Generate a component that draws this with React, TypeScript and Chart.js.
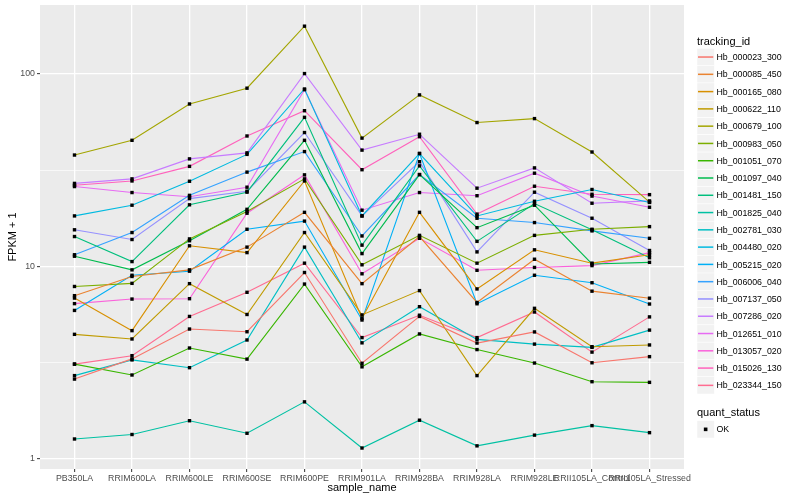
import React, { useEffect, useRef } from "react";
import { Chart, registerables } from "chart.js";

Chart.register(...registerables);

// ---------- data ----------
const sampleNames = [
  "PB350LA", "RRIM600LA", "RRIM600LE", "RRIM600SE", "RRIM600PE", "RRIM901LA",
  "RRIM928BA", "RRIM928LA", "RRIM928LE", "RRII105LA_Control", "RRII105LA_Stressed",
];

const trackingIds = [
  "Hb_000023_300", "Hb_000085_450", "Hb_000165_080", "Hb_000622_110", "Hb_000679_100",
  "Hb_000983_050", "Hb_001051_070", "Hb_001097_040", "Hb_001481_150", "Hb_001825_040",
  "Hb_002781_030", "Hb_004480_020", "Hb_005215_020", "Hb_006006_040", "Hb_007137_050",
  "Hb_007286_020", "Hb_012651_010", "Hb_013057_020", "Hb_015026_130", "Hb_023344_150",
];

const seriesColors = [
  "#F8766D", "#EA8331", "#D89000", "#C09B00", "#A3A500",
  "#7CAE00", "#39B600", "#00BB4E", "#00BF7D", "#00C1A3",
  "#00BFC4", "#00BAE0", "#00B0F6", "#35A2FF", "#9590FF",
  "#C77CFF", "#E76BF3", "#FA62DB", "#FF62BC", "#FF6C91",
];

// FPKM + 1 per sample (order of sampleNames)
const Hb_000023_300 = [2.6, 3.31, 4.73, 4.58, 9.3, 3.14, 5.5, 4.0, 4.57, 3.16, 3.4];
const Hb_000085_450 = [7.05, 8.87, 9.6, 12.6, 19.1, 8.14, 14.3, 6.5, 10.9, 7.44, 6.84];
const Hb_000165_080 = [6.85, 4.64, 12.8, 11.8, 27.8, 5.38, 19.1, 7.64, 12.2, 10.4, 11.5];
const Hb_000622_110 = [4.44, 4.2, 8.14, 5.63, 15.0, 5.6, 7.49, 2.71, 6.06, 3.83, 3.91];
const Hb_000679_100 = [37.9, 45.2, 69.8, 84.3, 177, 46.4, 77.8, 55.9, 58.6, 39.3, 21.6];
const Hb_000983_050 = [7.87, 8.17, 13.9, 19.3, 28.5, 10.2, 14.5, 10.4, 14.5, 15.6, 16.1];
const Hb_001051_070 = [3.11, 2.73, 3.77, 3.3, 8.1, 3.01, 4.46, 3.7, 3.15, 2.52, 2.5];
const Hb_001097_040 = [11.3, 9.6, 13.6, 19.8, 45.2, 11.66, 30.0, 15.9, 20.8, 10.3, 10.5];
const Hb_001481_150 = [14.3, 10.6, 20.9, 24.3, 59.5, 12.9, 33.3, 13.5, 21.2, 15.5, 11.1];
const Hb_001825_040 = [1.27, 1.34, 1.58, 1.36, 1.98, 1.14, 1.59, 1.17, 1.33, 1.49, 1.37];
const Hb_002781_030 = [2.71, 3.27, 2.98, 4.15, 12.6, 4.01, 6.18, 4.18, 3.95, 3.8, 4.67];
const Hb_004480_020 = [18.3, 20.8, 27.7, 38.2, 83.5, 18.3, 38.6, 18.3, 21.8, 25.1, 21.5];
const Hb_005215_020 = [5.91, 9.0, 9.45, 15.6, 17.2, 5.27, 38.6, 6.4, 9.0, 8.23, 6.38];
const Hb_006006_040 = [11.5, 15.0, 23.4, 30.9, 39.5, 14.4, 30.0, 17.8, 16.9, 15.3, 14.0];
const Hb_007137_050 = [15.5, 13.8, 22.5, 24.6, 49.6, 18.3, 35.0, 11.9, 24.3, 17.8, 12.1];
const Hb_007286_020 = [27.0, 28.5, 36.2, 38.9, 100.4, 40.2, 48.6, 25.5, 32.5, 21.3, 21.9];
const Hb_012651_010 = [26.0, 24.2, 23.0, 25.8, 82.8, 19.6, 24.2, 23.3, 30.5, 23.2, 20.3];
const Hb_013057_020 = [6.41, 6.77, 6.8, 18.9, 29.9, 9.16, 14.0, 9.55, 9.88, 10.1, 11.8];
const Hb_015026_130 = [26.4, 27.8, 33.1, 47.6, 64.4, 31.8, 47.2, 18.7, 26.1, 23.7, 23.6];
const Hb_023344_150 = [3.11, 3.44, 5.5, 7.34, 10.4, 4.27, 5.58, 4.27, 5.8, 3.59, 5.47];

const seriesValues = [
  Hb_000023_300, Hb_000085_450, Hb_000165_080, Hb_000622_110, Hb_000679_100,
  Hb_000983_050, Hb_001051_070, Hb_001097_040, Hb_001481_150, Hb_001825_040,
  Hb_002781_030, Hb_004480_020, Hb_005215_020, Hb_006006_040, Hb_007137_050,
  Hb_007286_020, Hb_012651_010, Hb_013057_020, Hb_015026_130, Hb_023344_150,
];

const yMajorBreaks = [1, 10, 100];
const yMinorBreaks = [3.1623, 31.623];
const quantStatus = ["OK"];

// ---------- styling ----------
const FONT = '"Liberation Sans", Arial, Helvetica, sans-serif';
const KEY = 17.28;

export default function App() {
  const ref = useRef<HTMLCanvasElement>(null);

  useEffect(() => {
    const canvas = ref.current;
    if (!canvas) return;

    const panelBg = {
      id: "panelBg",
      beforeDraw(chart: any) {
        const { ctx, chartArea: a } = chart;
        ctx.save();
        ctx.fillStyle = "#EBEBEB";
        ctx.fillRect(a.left, a.top, a.right - a.left, a.bottom - a.top);
        ctx.restore();
      },
    };

    const pointsOnTop = {
      id: "pointsOnTop",
      afterDatasetsDraw(chart: any) {
        const ctx = chart.ctx;
        ctx.save();
        ctx.fillStyle = "#000000";
        const s = 3.4;
        chart.data.datasets.forEach((_: any, i: number) => {
          const meta = chart.getDatasetMeta(i);
          meta.data.forEach((el: any) => {
            ctx.fillRect(el.x - s / 2, el.y - s / 2, s, s);
          });
        });
        ctx.restore();
      },
    };

    const yGrid = [...yMajorBreaks, ...yMinorBreaks].sort((a, b) => a - b);
    const isMajorIdx = (i: number) => yMajorBreaks.includes(yGrid[i]);

    const chart = new Chart(canvas, {
      type: "line",
      data: {
        datasets: trackingIds.map((id, i) => ({
          label: id,
          data: seriesValues[i].map((v, j) => ({ x: j, y: v })),
          borderColor: seriesColors[i],
          backgroundColor: seriesColors[i],
          borderWidth: 1.1,
          pointRadius: 0,
          pointHoverRadius: 0,
          fill: false,
          tension: 0,
        })),
      },
      options: {
        animation: false,
        responsive: false,
        maintainAspectRatio: false,
        events: [],
        layout: { padding: { top: 5, right: 116, left: 0, bottom: 0 } },
        plugins: {
          legend: { display: false },
          tooltip: { enabled: false },
        },
        scales: {
          x: {
            type: "linear",
            min: -0.6,
            max: 10.6,
            bounds: "data",
            afterBuildTicks: (s: any) => {
              s.ticks = sampleNames.map((_, i) => ({ value: i }));
            },
            afterFit: (s: any) => {
              s.height = 31;
              s.paddingLeft = 0;
              s.paddingRight = 0;
            },
            ticks: {
              autoSkip: false,
              maxRotation: 0,
              minRotation: 0,
              color: "#4D4D4D",
              font: { family: FONT, size: 8.8 },
              padding: 1.5,
              callback: (v: any) => sampleNames[Math.round(v)] ?? "",
            },
            grid: {
              color: "#FFFFFF",
              lineWidth: 1.3,
              tickLength: 3,
              tickColor: "#333333",
              tickWidth: 1,
            },
            border: { display: false },
            title: {
              display: true,
              text: "sample_name",
              color: "#000000",
              font: { family: FONT, size: 11 },
              padding: { top: 0, bottom: 5 },
            },
          },
          y: {
            type: "logarithmic",
            min: 0.887,
            max: 228,
            bounds: "data",
            afterBuildTicks: (s: any) => {
              s.ticks = yGrid.map((v) => ({ value: v }));
            },
            afterFit: (s: any) => {
              s.width = 40;
              s.paddingTop = 0;
              s.paddingBottom = 0;
            },
            ticks: {
              autoSkip: false,
              color: "#4D4D4D",
              font: { family: FONT, size: 8.8 },
              padding: 2,
              callback: (v: any) => (yMajorBreaks.includes(v) ? String(v) : ""),
            },
            grid: {
              color: "#FFFFFF",
              lineWidth: (c: any) => (isMajorIdx(c.index) ? 1.3 : 0.65),
              tickLength: 3,
              tickColor: (c: any) => (isMajorIdx(c.index) ? "#333333" : "rgba(0,0,0,0)"),
              tickWidth: 1,
            },
            border: { display: false },
            title: {
              display: true,
              text: "FPKM + 1",
              color: "#000000",
              font: { family: FONT, size: 11 },
              padding: { top: 6, bottom: 0 },
            },
          },
        },
      } as any,
      plugins: [panelBg, pointsOnTop],
    });

    return () => chart.destroy();
  }, []);

  const legendLeft = 697;
  const labelLeft = 716.5;
  const firstKeyTop = 48.4;
  const quantKeyTop = 420.7;

  return (
    <div
      style={{
        position: "fixed",
        left: 0,
        top: 0,
        width: 800,
        height: 500,
        background: "#FFFFFF",
        overflow: "hidden",
      }}
    >
      <canvas ref={ref} width={800} height={500} style={{ width: 800, height: 500, display: "block" }} />
      <svg
        width={800}
        height={500}
        viewBox="0 0 800 500"
        style={{ position: "absolute", left: 0, top: 0, pointerEvents: "none" }}
        fontFamily={FONT}
      >
        <text x={legendLeft} y={44.5} fontSize={11} fill="#000">
          tracking_id
        </text>
        {trackingIds.map((id, i) => {
          const top = firstKeyTop + i * KEY;
          const cy = top + KEY / 2;
          return (
            <g key={id}>
              <rect x={legendLeft} y={top} width={KEY} height={KEY} fill="#F2F2F2" stroke="#FFFFFF" strokeWidth={0.5} />
              <line
                x1={legendLeft + 1}
                x2={legendLeft + KEY - 1}
                y1={cy}
                y2={cy}
                stroke={seriesColors[i]}
                strokeWidth={1.5}
              />
              <text x={labelLeft} y={cy + 3.1} fontSize={8.8} fill="#000">
                {id}
              </text>
            </g>
          );
        })}
        <text x={legendLeft} y={416.3} fontSize={11} fill="#000">
          quant_status
        </text>
        {quantStatus.map((q, i) => {
          const top = quantKeyTop + i * KEY;
          const cy = top + KEY / 2;
          return (
            <g key={q}>
              <rect x={legendLeft} y={top} width={KEY} height={KEY} fill="#F2F2F2" stroke="#FFFFFF" strokeWidth={0.5} />
              <rect x={legendLeft + KEY / 2 - 1.8} y={cy - 1.8} width={3.6} height={3.6} fill="#000" />
              <text x={labelLeft} y={cy + 3.1} fontSize={8.8} fill="#000">
                {q}
              </text>
            </g>
          );
        })}
      </svg>
    </div>
  );
}
